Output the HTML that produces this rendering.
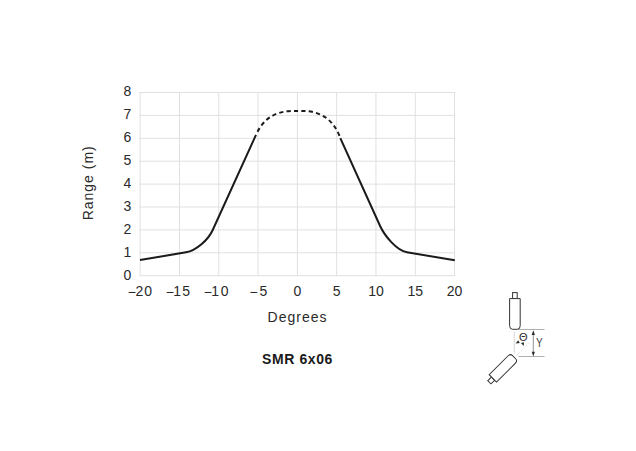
<!DOCTYPE html>
<html><head><meta charset="utf-8"><style>
html,body{margin:0;padding:0;background:#fff;overflow:hidden;width:636px;height:451px;}
svg{display:block;}
text{font-family:"Liberation Sans",Arial,sans-serif;font-size:14px;fill:#2a2a2a;}
</style></head><body>
<svg width="636" height="451" viewBox="0 0 636 451">
<rect width="636" height="451" fill="#fff"/>
<g stroke="#e0e0e0" stroke-width="1" fill="none">
<line x1="140.15" y1="92" x2="140.15" y2="276.2"/>
<line x1="179.45" y1="92" x2="179.45" y2="276.2"/>
<line x1="218.75" y1="92" x2="218.75" y2="276.2"/>
<line x1="258.05" y1="92" x2="258.05" y2="276.2"/>
<line x1="297.35" y1="92" x2="297.35" y2="276.2"/>
<line x1="336.65" y1="92" x2="336.65" y2="276.2"/>
<line x1="375.95" y1="92" x2="375.95" y2="276.2"/>
<line x1="415.25" y1="92" x2="415.25" y2="276.2"/>
<line x1="454.55" y1="92" x2="454.55" y2="276.2"/>
<line x1="139.5" y1="275.70" x2="455.3" y2="275.70"/>
<line x1="139.5" y1="252.80" x2="455.3" y2="252.80"/>
<line x1="139.5" y1="229.90" x2="455.3" y2="229.90"/>
<line x1="139.5" y1="207.00" x2="455.3" y2="207.00"/>
<line x1="139.5" y1="184.10" x2="455.3" y2="184.10"/>
<line x1="139.5" y1="161.20" x2="455.3" y2="161.20"/>
<line x1="139.5" y1="138.30" x2="455.3" y2="138.30"/>
<line x1="139.5" y1="115.40" x2="455.3" y2="115.40"/>
<line x1="139.5" y1="92.50" x2="455.3" y2="92.50"/>
</g>
<g text-anchor="end">
<text x="131.4" y="279.6">0</text>
<text x="131.4" y="256.7">1</text>
<text x="131.4" y="233.8">2</text>
<text x="131.4" y="210.9">3</text>
<text x="131.4" y="188.0">4</text>
<text x="131.4" y="165.1">5</text>
<text x="131.4" y="142.2">6</text>
<text x="131.4" y="119.3">7</text>
<text x="131.4" y="96.4">8</text>
</g>
<g text-anchor="middle">
<text y="296" text-anchor="start"><tspan x="127.71" dy="0.5">−</tspan><tspan x="135.40" dy="-0.5">2</tspan><tspan x="144.35">0</tspan></text>
<text y="296" text-anchor="start"><tspan x="165.71" dy="0.5">−</tspan><tspan x="173.36" dy="-0.5">1</tspan><tspan x="182.34">5</tspan></text>
<text y="296" text-anchor="start"><tspan x="203.71" dy="0.5">−</tspan><tspan x="211.16" dy="-0.5">1</tspan><tspan x="220.65">0</tspan></text>
<text y="296" text-anchor="start"><tspan x="249.51" dy="0.5">−</tspan><tspan x="259.54" dy="-0.5">5</tspan></text>
<text x="297.4" y="296">0</text>
<text x="336.7" y="296">5</text>
<text x="376.0" y="296">10</text>
<text x="415.2" y="296">15</text>
<text x="454.6" y="296">20</text>
</g>
<text x="297.5" y="321.5" text-anchor="middle" style="letter-spacing:1px">Degrees</text>
<text transform="translate(92.8,182.8) rotate(-90)" text-anchor="middle" style="letter-spacing:1px">Range (m)</text>
<text x="297.5" y="363.7" text-anchor="middle" style="font-weight:bold;fill:#1a1a1a;letter-spacing:0.6px">SMR 6x06</text>
<g fill="none" stroke="#1a1a1a" stroke-width="2" stroke-linejoin="round">
<path d="M140,260 L186.04,252.33 C196.03,250.67 208.21,239.91 212.73,229.97 L256,134.79"/>
<path d="M454.8,260.33 L406.91,252.26 C396.71,250.54 384.47,235.63 380.11,226.01 L340.3,138.06"/>
<path d="M256,134.79 C267.06,110.13 287.42,110.9 297.5,110.9 C307.58,110.9 327.94,109.94 339,134.6 L340.3,138.06" stroke-dasharray="4.2 3.23" stroke-dashoffset="4.2"/>
</g>
<g id="icon">
<g stroke="#9a9a9a" stroke-width="0.8" fill="none">
<line x1="518" y1="329.5" x2="544.5" y2="329.5"/>
<line x1="518.5" y1="356.5" x2="544.5" y2="356.5"/>
<line x1="533.3" y1="333" x2="533.3" y2="353" stroke="#777"/>
<line x1="514.3" y1="332" x2="514.3" y2="353.5" stroke="#aaa" stroke-width="0.7" stroke-dasharray="1.5 0.8"/>
<line x1="515.8" y1="356.2" x2="529" y2="342.8" stroke="#c8c8c8" stroke-width="0.7" stroke-dasharray="1.2 1.2"/>
</g>
<g fill="#2a2a2a">
<path d="M533.3,330.2 L531.7,335 L534.9,335 Z"/>
<path d="M533.3,356.6 L531.7,351.8 L534.9,351.8 Z"/>
<path d="M515.7,343.5 L518.2,340.3 L519.8,343.1 Z"/>
<path d="M520.9,343 L523.9,342.2 L523.8,346 Z"/>
</g>
<text transform="translate(536.1,346.7) scale(0.84,1)" style="font-size:12px;fill:#444">Y</text>
<text x="518.9" y="340.8" style="font-size:11px;fill:#2a2a2a">&#920;</text>
<g fill="#fff" stroke="#333" stroke-width="1">
<g transform="translate(514.9,298.6)">
<rect x="-2.3" y="-6" width="4.6" height="6"/>
<path d="M-5.3,0 H5.3 V27.2 Q5.3,30.7 2.2,30.7 H-2.2 Q-5.3,30.7 -5.3,27.2 Z"/>
</g>
<g transform="translate(492.85,378.4) rotate(-135)">
<rect x="-2.6" y="-5.2" width="4.6" height="5.2"/>
<path d="M-5.2,0 H5.2 V26.5 Q5.2,30 2.2,30 H-2.2 Q-5.2,30 -5.2,26.5 Z"/>
</g>
</g>
</g>
</svg>
</body></html>
